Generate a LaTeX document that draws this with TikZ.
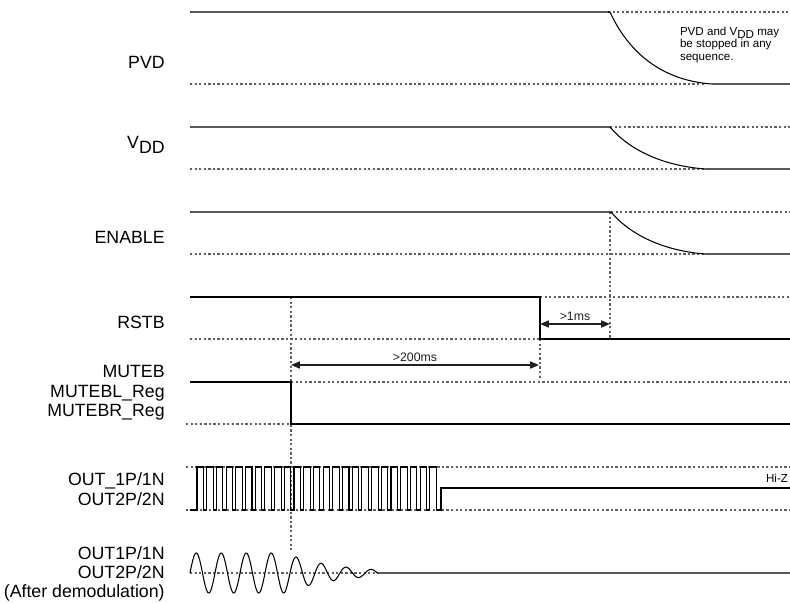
\documentclass[tikz,border=0pt]{standalone}
\usepackage{fontspec}
\setmainfont{Liberation Sans}
\usetikzlibrary{arrows.meta}
\newcommand{\Vdd}{V\raisebox{-0.45ex}{DD}}

\begin{document}
\begin{tikzpicture}[x=0.02cm,y=-0.02cm,
    sig/.style={line width=0.6pt},
    guide/.style={gray!75!black,line width=0.6pt,dash pattern=on 1.3pt off 1.3pt},
    dim/.style={gray!25!black,line width=0.8pt,{Triangle[length=5pt,width=4pt]}-{Triangle[length=5pt,width=4pt]}},
    lbl/.style={anchor=east,align=right,inner sep=0pt,font=\fontsize{10.1}{11}\selectfont},
    small/.style={font=\fontsize{7}{8}\selectfont,inner sep=1.5pt}]
    \useasboundingbox (0,0) rectangle (790,602);
    % time marks
    \coordinate (tmute) at (291,0);
    \coordinate (trst) at (540,0);
    \coordinate (tpwr) at (610,0);
    % guides
    \draw[guide] (608,12) -- (790,12);
    \draw[guide] (190,84) -- (705,84);
    \draw[guide] (610,127) -- (790,127);
    \draw[guide] (190,169) -- (705,169);
    \draw[guide] (611,212) -- (790,212);
    \draw[guide] (190,254) -- (705,254);
    \draw[guide] (540,297) -- (790,297);
    \draw[guide] (190,339) -- (540,339);
    \draw[guide] (291,382) -- (790,382);
    \draw[guide] (186,424) -- (291,424);
    \draw[guide] (186,467) -- (790,467);
    \draw[guide] (186,510) -- (790,510);
    \draw[guide] (190,573) -- (378,573);
    \draw[guide] (tmute |- 0,297) -- (tmute |- 0,550);
    \draw[guide] (trst |- 0,339) -- (trst |- 0,378);
    \draw[guide] (tpwr |- 0,212) -- (tpwr |- 0,339);
    % PVD
    \draw[sig] (190,12) -- (610,12) .. controls (625,45) and (655,80) .. (712,84) -- (790,84);
    \node[lbl] (pvd) at (165,62) {PVD};
    \node[small,anchor=north west,align=left,font=\fontsize{6.6}{7.1}\selectfont] (note) at (677,24) {PVD and \Vdd{} may\\be stopped in any\\sequence.};
    % VDD
    \draw[sig] (190,127) -- (610,127) .. controls (625,145) and (655,165) .. (705,169) -- (790,169);
    \node[lbl] (vdd) at (165,145) {\Vdd};
    % ENABLE
    \draw[sig] (190,212) -- (611,212) .. controls (626,230) and (656,250) .. (705,254) -- (790,254);
    \node[lbl] (enable) at (165,237) {ENABLE};
    % RSTB
    \draw[sig] (190,297) -- (540,297) -- (540,339) -- (790,339);
    \node[lbl] (rstb) at (165,322) {RSTB};
    \coordinate (r1) at (540,324);
    \coordinate (r2) at (610,324);
    \draw[dim] (r1) -- (r2) node[midway,above,small] {>1ms};
    % MUTEB
    \draw[sig] (190,382) -- (291,382) -- (291,424) -- (790,424);
    \node[lbl] (muteb) at (165,393) {MUTEB\\MUTEBL\_Reg\\MUTEBR\_Reg};
    \coordinate (m1) at (291,365);
    \coordinate (m2) at (539,365);
    \draw[dim] (m1) -- (m2) node[midway,above,small] {>200ms};
    % PWM outputs
    \draw[sig] (190,510) \foreach \i in {0,...,24} {
        -- ({197+9.7*\i},510) -- ++(0,-43) -- ++(6.5,0) -- ++(0,43)}
      -- (441,510) -- (441,488) -- (790,488);
    \node[lbl] (pwm) at (165,489) {OUT\_1P/1N\\OUT2P/2N};
    \node[small,font=\fontsize{6.6}{7}\selectfont] (hiz) at (777,478) {Hi-Z};
    % demodulated outputs
    \draw[sig,smooth] plot[domain=0:95,samples=120,variable=\t] ({190+\t},{573-20*sin(14.4*\t)})
      -- plot[domain=95:187.5,samples=120,variable=\t] ({190+\t},{573-20*exp(-(\t-95)/50)*sin(14.4*\t)})
      -- (790,573);
    \node[lbl] (demod) at (165,574) {OUT1P/1N\\OUT2P/2N\\(After demodulation)};
\end{tikzpicture}
\end{document}
